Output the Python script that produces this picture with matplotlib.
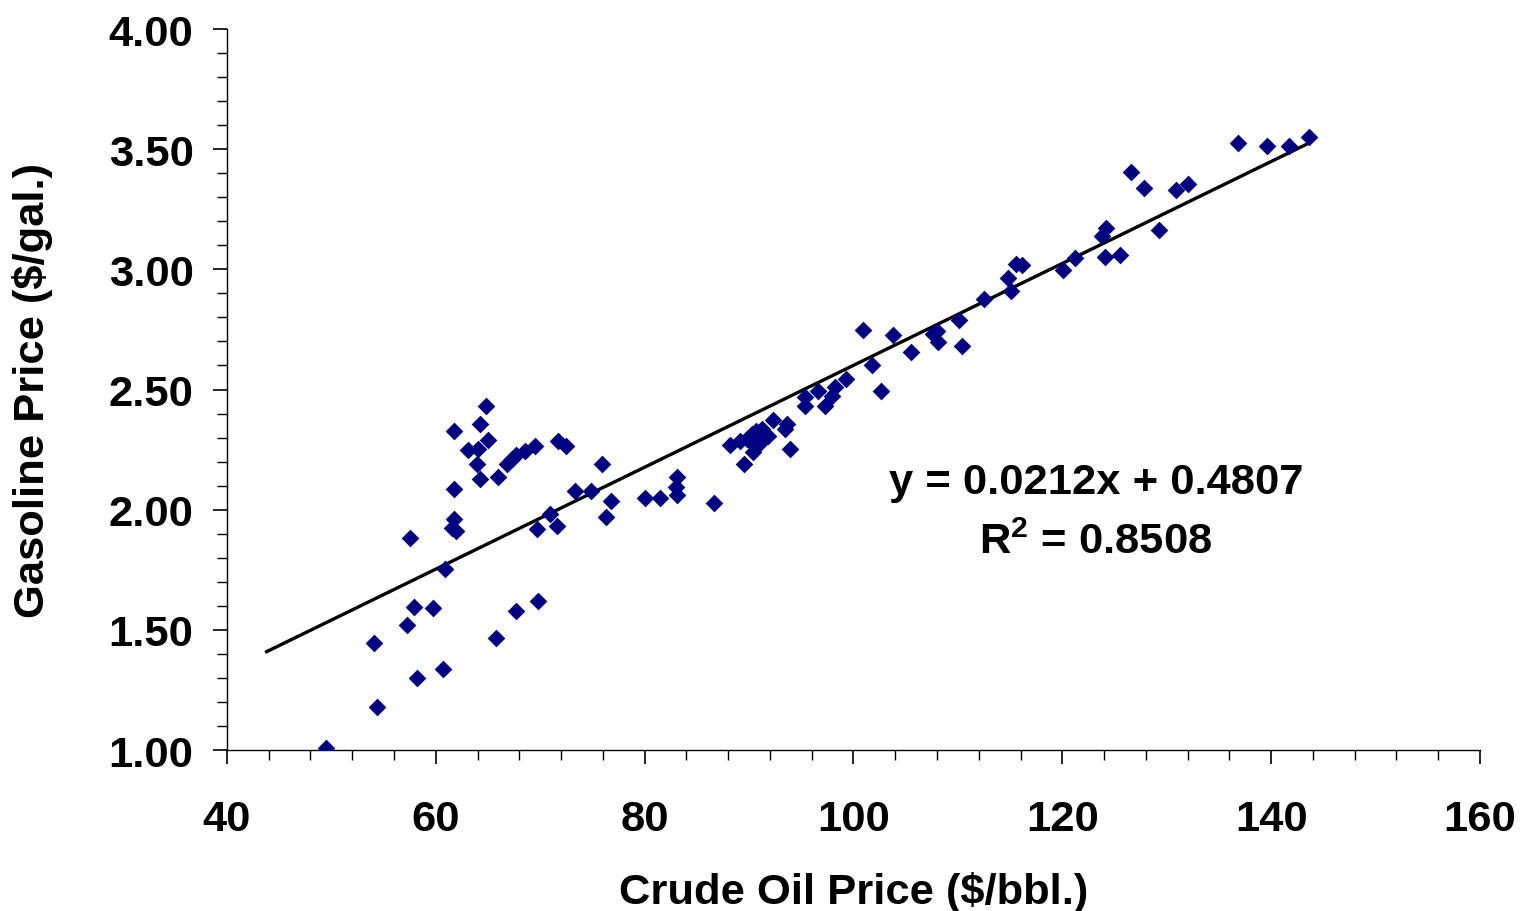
import matplotlib
matplotlib.use("Agg")
import matplotlib.pyplot as plt
from matplotlib.ticker import MultipleLocator, FormatStrFormatter
import numpy as np

plt.rcParams['font.family'] = ['Liberation Sans', 'DejaVu Sans']
plt.rcParams['font.weight'] = 'bold'
plt.rcParams['mathtext.fontset'] = 'custom'
plt.rcParams['mathtext.rm'] = 'Liberation Sans:bold'
plt.rcParams['mathtext.bf'] = 'Liberation Sans:bold'
plt.rcParams['mathtext.default'] = 'bf'

crude = [49.5, 54.1, 54.4, 57.2, 57.5, 57.9, 58.2, 59.7, 60.7, 60.9,
         61.6, 61.7, 61.9, 61.7, 61.7, 63.1, 63.9, 64.0, 64.2, 64.2,
         64.8, 65.0, 65.8, 66.0, 66.8, 67.3, 67.7, 67.7, 68.5, 69.5,
         69.7, 69.8, 70.9, 71.6, 71.7, 72.5, 73.3, 74.9, 75.9, 76.3,
         76.8, 80.0, 81.5, 83.1, 83.0, 83.1, 86.6, 88.2, 89.5, 89.1,
         89.8, 90.3, 90.7, 91.2, 91.8, 90.4, 90.4, 91.0, 92.3, 93.6,
         93.4, 93.9, 95.4, 95.4, 96.6, 97.3, 97.9, 98.2, 99.3, 100.9,
         101.8, 102.6, 103.8, 105.5, 107.6, 108.0, 108.1, 110.1, 110.4, 112.5,
         114.8, 115.1, 115.6, 116.1, 120.1, 121.2, 123.8, 124.2, 124.1, 125.5,
         126.6, 127.8, 129.3, 130.9, 132.0, 136.8, 139.6, 141.7, 143.6]
gasoline = [1.010, 1.444, 1.178, 1.521, 1.882, 1.594, 1.300, 1.590, 1.337, 1.753,
            1.925, 1.961, 1.912, 2.086, 2.326, 2.248, 2.190, 2.252, 2.128, 2.356,
            2.433, 2.291, 1.465, 2.135, 2.190, 2.211, 1.577, 2.227, 2.243, 2.266,
            1.920, 1.619, 1.982, 1.933, 2.284, 2.266, 2.079, 2.076, 2.190, 1.971,
            2.037, 2.047, 2.049, 2.135, 2.093, 2.061, 2.026, 2.268, 2.190, 2.284,
            2.294, 2.315, 2.329, 2.336, 2.308, 2.273, 2.239, 2.273, 2.373, 2.356,
            2.336, 2.252, 2.468, 2.433, 2.493, 2.433, 2.474, 2.509, 2.544, 2.748,
            2.602, 2.495, 2.727, 2.655, 2.731, 2.742, 2.699, 2.789, 2.682, 2.877,
            2.963, 2.911, 3.022, 3.019, 2.999, 3.046, 3.140, 3.171, 3.050, 3.060,
            3.406, 3.337, 3.164, 3.330, 3.355, 3.526, 3.512, 3.514, 3.549]

slope = 0.0212
intercept = 0.4807
r_squared = 0.8508
trend_start = 43.8

x_label = "Crude Oil Price ($/bbl.)"
y_label = "Gasoline Price ($/gal.)"

FS = 31.3

fig = plt.figure(figsize=(15.2, 9.12), dpi=100)
ax = fig.add_axes([0.1493, 0.1765, 0.8244, 0.7906])

ax.scatter(crude, gasoline, marker='D', s=9.0**2, color='#000080', linewidths=0, zorder=3)

tx = np.array([trend_start, max(crude)])
ax.plot(tx, slope * tx + intercept, color='black', lw=2.4, zorder=2)

ax.set_xlim(40, 160)
ax.set_ylim(1.0, 4.0)
ax.xaxis.set_major_locator(MultipleLocator(20))
ax.xaxis.set_minor_locator(MultipleLocator(4))
ax.yaxis.set_major_locator(MultipleLocator(0.5))
ax.yaxis.set_minor_locator(MultipleLocator(0.1))
ax.yaxis.set_major_formatter(FormatStrFormatter('%.2f'))

for s in ['top', 'right']:
    ax.spines[s].set_visible(False)
for s in ['left', 'bottom']:
    ax.spines[s].set_linewidth(1.0)

ax.tick_params(axis='x', which='major', direction='out', length=10, width=1.2, pad=25, labelsize=FS)
ax.tick_params(axis='x', which='minor', direction='out', length=7, width=1.0)
ax.tick_params(axis='y', which='major', direction='out', length=10, width=1.2, pad=14, labelsize=FS)
ax.tick_params(axis='y', which='minor', direction='out', length=7, width=1.0)
for lbl in ax.get_xticklabels() + ax.get_yticklabels():
    lbl.set_fontweight('bold')

ax.set_xlabel(x_label, fontsize=FS, fontweight='bold', labelpad=23)
ax.set_ylabel(y_label, fontsize=FS, fontweight='bold', labelpad=40)

ax.text(0.6935, 0.3717, "y = %.4fx + %.4f" % (slope, intercept), transform=ax.transAxes,
        ha='center', va='center', fontsize=FS, fontweight='bold')
ax.text(0.6935, 0.2885, r"R$^2$ = %.4f" % r_squared, transform=ax.transAxes,
        ha='center', va='center', fontsize=FS, fontweight='bold')

fig.savefig("out.png", dpi=100)
